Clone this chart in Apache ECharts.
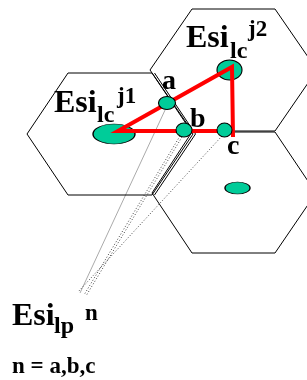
<!DOCTYPE html>
<html>
<head>
<meta charset="utf-8">
<script src="https://cdn.jsdelivr.net/npm/echarts@6/dist/echarts.min.js"></script>
<style>
  html, body { margin: 0; padding: 0; background: #fff; }
  #chart { width: 307px; height: 380px; }
</style>
</head>
<body>
<div id="chart"></div>
<script>
// 六边形顶点（图面坐标，y 向下）
const hexLeft = [[27, 134], [68, 73], [152, 73], [193, 134], [152, 195], [68, 195], [27, 134]]
const hexTop = [[150, 70], [192, 9], [275, 9], [317, 70], [275, 131], [192, 131], [150, 70]]
const hexBottom = [[152, 193], [192, 132], [275, 132], [316, 193], [275, 253], [192, 253], [152, 193]]
// 双线边
const doubleEdge = [[154.5, 73], [195.5, 134], [154.5, 195]]

// 红色三角形路径
const triangle = [[233, 137], [232, 67], [118, 131], [233, 131]]

// 基站（椭圆）与测量点
const stations = [[114, 134], [229.5, 70], [237.5, 188]]
const stationSizes = [[42, 20], [25, 20], [25, 12]]
const points = [[167, 103], [184, 130], [224.5, 130]]
const pointSizes = [[17, 13], [16, 14], [15, 14]]

// 虚线：测量点 -> Esi_lp
const rays = [
  [[166, 108], [80, 293]],
  [[182, 137], [86, 296]],
  [[222, 136], [78, 292]],
  [[180, 136], [84, 295]]
]

const chart = echarts.init(document.getElementById('chart'))

const black = { color: '#000', width: 1 }
const lineSeries = (data, style, z) => ({
  type: 'line', data, symbol: 'none', lineStyle: style, z: z || 2, silent: true
})
const ellipseSeries = (data, sizes, z) => ({
  type: 'scatter',
  data: data.map((p, i) => ({ value: p, symbolSize: sizes[i] })),
  symbol: 'circle',
  itemStyle: { color: '#00cc99', borderColor: '#000', borderWidth: 1, opacity: 1 },
  z
})

const serif = '"Liberation Serif", "DejaVu Serif", serif'
const txt = (text, x, y, size) => ({
  type: 'text', x, y, z: 10,
  style: { text, font: `bold ${size}px ${serif}`, fill: '#000', verticalAlign: 'middle', align: 'left' }
})

chart.setOption({
  animation: false,
  grid: { left: 0, right: 0, top: 0, bottom: 0 },
  xAxis: { type: 'value', min: 0, max: 307, show: false },
  yAxis: { type: 'value', min: 0, max: 380, inverse: true, show: false },
  series: [
    lineSeries(hexLeft, black),
    lineSeries(hexTop, black),
    lineSeries(hexBottom, black),
    lineSeries(doubleEdge, black),
    ...rays.map((r, i) => lineSeries(r, { color: i === 0 ? '#aaa' : '#444', width: 1, type: i === 0 ? 'solid' : [1, 2] }, 1)),
    ellipseSeries(stations, stationSizes, 3),
    lineSeries(triangle, { color: '#ff0000', width: 4, join: 'miter' }, 4),
    ellipseSeries(points, pointSizes, 5)
  ],
  graphic: [
    txt('Esi', 186, 39, 32), txt('lc', 230, 52, 24), txt('j2', 248, 30, 23),
    txt('Esi', 54, 104, 32), txt('lc', 97, 116, 24), txt('j1', 117, 97, 23),
    txt('a', 162, 82, 28), txt('b', 190, 120, 28), txt('c', 227, 147, 28),
    txt('Esi', 12, 317, 32), txt('lp', 54, 327, 24), txt('n', 85, 314, 23),
    txt('n = a,b,c', 12, 367, 23)
  ]
})
</script>
</body>
</html>
